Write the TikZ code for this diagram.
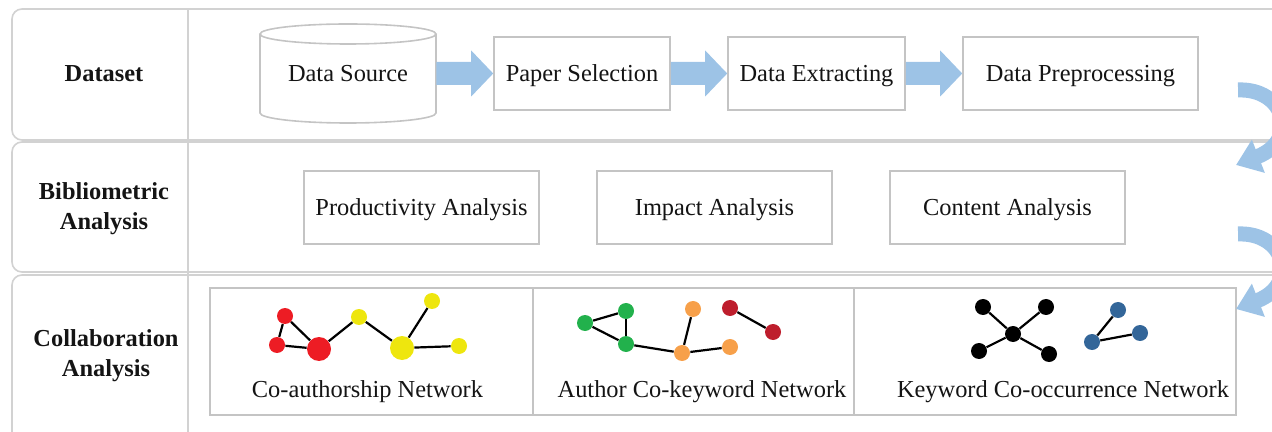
\documentclass[tikz,border=0pt]{standalone}
\usepackage{fontspec}
\setmainfont{Liberation Serif}
\usetikzlibrary{arrows.meta,calc}
\definecolor{rowgray}{HTML}{D2D2D2}
\definecolor{boxgray}{HTML}{C4C4C4}
\definecolor{flowblue}{HTML}{9DC3E6}
\definecolor{netred}{HTML}{ED1C24}
\definecolor{netyellow}{HTML}{EEE60E}
\definecolor{netgreen}{HTML}{22B14C}
\definecolor{netorange}{HTML}{F7A04A}
\definecolor{netdark}{HTML}{BE1E2D}
\definecolor{netblue}{HTML}{336699}
\definecolor{txt}{HTML}{141414}
\newcommand{\fatarrow}[2]{%
  \fill[flowblue] ($(#1.east)+(0,-11.5)$) -- ($(#2.west)+(-22,-11.5)$) -- ($(#2.west)+(-22,-23)$) -- (#2.west)
   -- ($(#2.west)+(-22,23)$) -- ($(#2.west)+(-22,11.5)$) -- ($(#1.east)+(0,11.5)$) -- cycle;}
\begin{document}
\begin{tikzpicture}[x=0.5pt,y=-0.5pt,
  font=\fontsize{12.2}{15}\selectfont, text=txt,
  rowline/.style={draw=rowgray, line width=0.8pt},
  procbox/.style={draw=boxgray, line width=0.8pt, fill=white, inner sep=0pt,
     minimum height=36.5pt, text height=9.5pt, text depth=1pt},
  cellbox/.style={draw=boxgray, line width=0.8pt, inner sep=0pt, minimum height=63.5pt},
  rowlabel/.style={font=\fontsize{12.2}{15}\selectfont\bfseries, align=center},
  netlabel/.style={inner sep=0pt, text height=9.5pt, text depth=1pt},
  dot/.style={circle, inner sep=0pt, minimum size=8pt},
  bigdot/.style={circle, inner sep=0pt, minimum size=12pt},
  edge/.style={draw=black, line width=1.1pt},
  curvearrow/.style={draw=flowblue, line width=7.5pt, -{Triangle[width=17pt,length=12pt]}}]
\useasboundingbox (0,0) rectangle (1272,432);
\clip (0,0) rectangle (1272,432);

% lanes
\draw[rowline, rounded corners=5pt] (12,9) rectangle (1320,140);
\draw[rowline, rounded corners=5pt] (12,142) rectangle (1320,272);
\draw[rowline, rounded corners=5pt] (12,275) rectangle (1320,460);
\draw[rowline] (188,9) -- (188,440);

% lane labels
\node[rowlabel] (lab1) at (104,74) {Dataset};
\node[rowlabel] (lab2) at (104,209) {Bibliometric\\Analysis};
\node[rowlabel] (lab3) at (106,356) {Collaboration\\Analysis};

% dataset row
\node[inner sep=0pt, minimum width=88pt, minimum height=49.5pt, text height=9.5pt, text depth=1pt] (ds) at (348,73.5) {Data Source};
\draw[boxgray, line width=0.8pt] (260,34) -- (260,113) arc[start angle=180, end angle=0, x radius=88, y radius=10] -- (436,34);
\draw[boxgray, line width=0.8pt] (348,34) ellipse [x radius=88, y radius=10];
\node[procbox, minimum width=88pt] (ps) at (582,73.5) {Paper Selection};
\node[procbox, minimum width=88.5pt] (de) at (816.5,73.5) {Data Extracting};
\node[procbox, minimum width=117.5pt] (dp) at (1080.5,73.5) {Data Preprocessing};
\fatarrow{ds}{ps}
\fatarrow{ps}{de}
\fatarrow{de}{dp}

% bibliometric row
\node[procbox, minimum width=117.5pt] (pa) at (421.5,207.5) {Productivity Analysis};
\node[procbox, minimum width=117.5pt] (ia) at (714.5,207.5) {Impact Analysis};
\node[procbox, minimum width=117.5pt] (ca) at (1007.5,207.5) {Content Analysis};

% collaboration row
\node[cellbox, minimum width=161.5pt] (c1) at (371.5,351.5) {};
\node[cellbox, minimum width=160.5pt] (c2) at (693.5,351.5) {};
\node[cellbox, minimum width=191pt] (c3) at (1045,351.5) {};
\node[netlabel] (l1) at (367.5,389) {Co-authorship Network};
\node[netlabel] (l2) at (702,389) {Author Co-keyword Network};
\node[netlabel] (l3) at (1063,389) {Keyword Co-occurrence Network};

% co-authorship network
\node[dot, fill=netred] (r1) at (285,316) {};
\node[dot, fill=netred] (r2) at (277,345) {};
\node[bigdot, fill=netred] (r3) at (319,349) {};
\node[dot, fill=netyellow] (y1) at (359,317) {};
\node[bigdot, fill=netyellow] (y2) at (402,348) {};
\node[dot, fill=netyellow] (y3) at (432,301) {};
\node[dot, fill=netyellow] (y4) at (459,346) {};
\draw[edge] (r1) -- (r2);
\draw[edge] (r1) -- (r3);
\draw[edge] (r2) -- (r3);
\draw[edge] (r3) -- (y1);
\draw[edge] (y1) -- (y2);
\draw[edge] (y2) -- (y3);
\draw[edge] (y2) -- (y4);

% author co-keyword network
\node[dot, fill=netgreen] (g1) at (585,323) {};
\node[dot, fill=netgreen] (g2) at (626,311) {};
\node[dot, fill=netgreen] (g3) at (626,344) {};
\node[dot, fill=netorange] (o1) at (693,309) {};
\node[dot, fill=netorange] (o2) at (682,353) {};
\node[dot, fill=netorange] (o3) at (730,347) {};
\node[dot, fill=netdark] (d1) at (730,308) {};
\node[dot, fill=netdark] (d2) at (773,332) {};
\draw[edge] (g1) -- (g2);
\draw[edge] (g2) -- (g3);
\draw[edge] (g1) -- (g3);
\draw[edge] (g3) -- (o2);
\draw[edge] (o2) -- (o1);
\draw[edge] (o2) -- (o3);
\draw[edge] (d1) -- (d2);

% keyword co-occurrence network
\node[dot, fill=black] (k0) at (1013,334) {};
\node[dot, fill=black] (k1) at (983,307) {};
\node[dot, fill=black] (k2) at (1046,307) {};
\node[dot, fill=black] (k3) at (979,351) {};
\node[dot, fill=black] (k4) at (1049,354) {};
\node[dot, fill=netblue] (b1) at (1118,310) {};
\node[dot, fill=netblue] (b2) at (1092,342) {};
\node[dot, fill=netblue] (b3) at (1140,333) {};
\draw[edge] (k0) -- (k1);
\draw[edge] (k0) -- (k2);
\draw[edge] (k0) -- (k3);
\draw[edge] (k0) -- (k4);
\draw[edge] (b2) -- (b1);
\draw[edge] (b2) -- (b3);

% curved arrows between rows
\coordinate (a1s) at (1238,90);
\coordinate (a1e) at (1236,165);
\coordinate (a2s) at (1238,234);
\coordinate (a2e) at (1236,309);
\draw[curvearrow] (a1s) .. controls (1285,88) and (1300,140) .. (a1e);
\draw[curvearrow] (a2s) .. controls (1285,232) and (1300,284) .. (a2e);
\end{tikzpicture}
\end{document}
